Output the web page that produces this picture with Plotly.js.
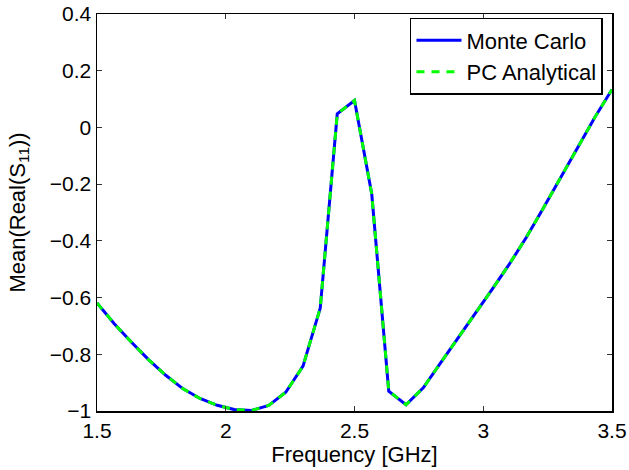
<!DOCTYPE html>
<html>
<head>
<meta charset="utf-8">
<script src="https://cdn.plot.ly/plotly-3.0.1.min.js"></script>
<style>html,body{margin:0;padding:0;background:#fff;}#chart{width:629px;height:470px;}</style>
</head>
<body>
<div id="chart"></div>
<script>
// Frequency samples [GHz]
const freq = [1.5, 1.567, 1.633, 1.7, 1.767, 1.833, 1.9, 1.967, 2.033, 2.1, 2.167, 2.233, 2.3, 2.367, 2.433, 2.5, 2.567, 2.633, 2.7, 2.767, 2.833, 2.9, 2.967, 3.033, 3.1, 3.167, 3.233, 3.3, 3.367, 3.433, 3.5];
// Mean(Real(S11)) - Monte Carlo
const monteCarlo = [-0.619, -0.692, -0.757, -0.819, -0.874, -0.921, -0.956, -0.980, -0.995, -0.998, -0.980, -0.934, -0.842, -0.637, 0.048, 0.095, -0.235, -0.930, -0.978, -0.918, -0.832, -0.746, -0.660, -0.573, -0.484, -0.388, -0.285, -0.176, -0.068, 0.035, 0.134];
// Mean(Real(S11)) - PC Analytical
const pcAnalytical = [-0.619, -0.692, -0.757, -0.819, -0.874, -0.921, -0.956, -0.980, -0.995, -0.998, -0.980, -0.934, -0.842, -0.637, 0.048, 0.095, -0.235, -0.930, -0.978, -0.918, -0.832, -0.746, -0.660, -0.573, -0.484, -0.388, -0.285, -0.176, -0.068, 0.035, 0.134];

const xTickVals = [1.5, 2, 2.5, 3, 3.5];
const xTickText = ["1.5", "2", "2.5", "3", "3.5"];
const yTickVals = [-1, -0.8, -0.6, -0.4, -0.2, 0, 0.2, 0.4];
const yTickText = ["\u22121", "\u22120.8", "\u22120.6", "\u22120.4", "\u22120.2", "0", "0.2", "0.4"];

const FONT = "Liberation Sans, Arial, Helvetica, sans-serif";

const traces = [
  {x: freq, y: monteCarlo, name: "Monte Carlo", type: "scatter", mode: "lines",
   line: {color: "#0000ff", width: 3}},
  {x: freq, y: pcAnalytical, name: "PC Analytical", type: "scatter", mode: "lines",
   line: {color: "#00ff00", width: 3, dash: "8px,7px"}}
];

const axisCommon = {
  showgrid: false, zeroline: false, showline: true, linecolor: "#000", linewidth: 1.5,
  mirror: "allticks", ticks: "inside", ticklen: 5, tickcolor: "#333", tickwidth: 1,
  tickfont: {family: FONT, size: 21, color: "#000"}
};

const layout = {
  width: 629, height: 470,
  margin: {l: 97, r: 17, t: 14, b: 59, pad: 0},
  paper_bgcolor: "#fff", plot_bgcolor: "#fff",
  font: {family: FONT, size: 21, color: "#000"},
  xaxis: Object.assign({}, axisCommon, {
    range: [1.5, 3.5], tickmode: "array", tickvals: xTickVals, ticktext: xTickText,
    title: {text: "Frequency [GHz]", font: {family: FONT, size: 22, color: "#000"}, standoff: 0}
  }),
  yaxis: Object.assign({}, axisCommon, {
    range: [-1, 0.4], tickmode: "array", tickvals: yTickVals, ticktext: yTickText,
    title: {text: "Mean(Real(S<sub>11</sub>))", font: {family: FONT, size: 22, color: "#000"}, standoff: 18}
  }),
  showlegend: true,
  legend: {
    x: 0.9825, y: 0.99, xanchor: "right", yanchor: "top",
    bgcolor: "#fff", bordercolor: "#000", borderwidth: 1.5,
    font: {family: FONT, size: 22, color: "#000"},
    itemwidth: 45, tracegroupgap: 0
  }
};

Plotly.newPlot("chart", traces, layout, {staticPlot: true, displayModeBar: false});
</script>
</body>
</html>
